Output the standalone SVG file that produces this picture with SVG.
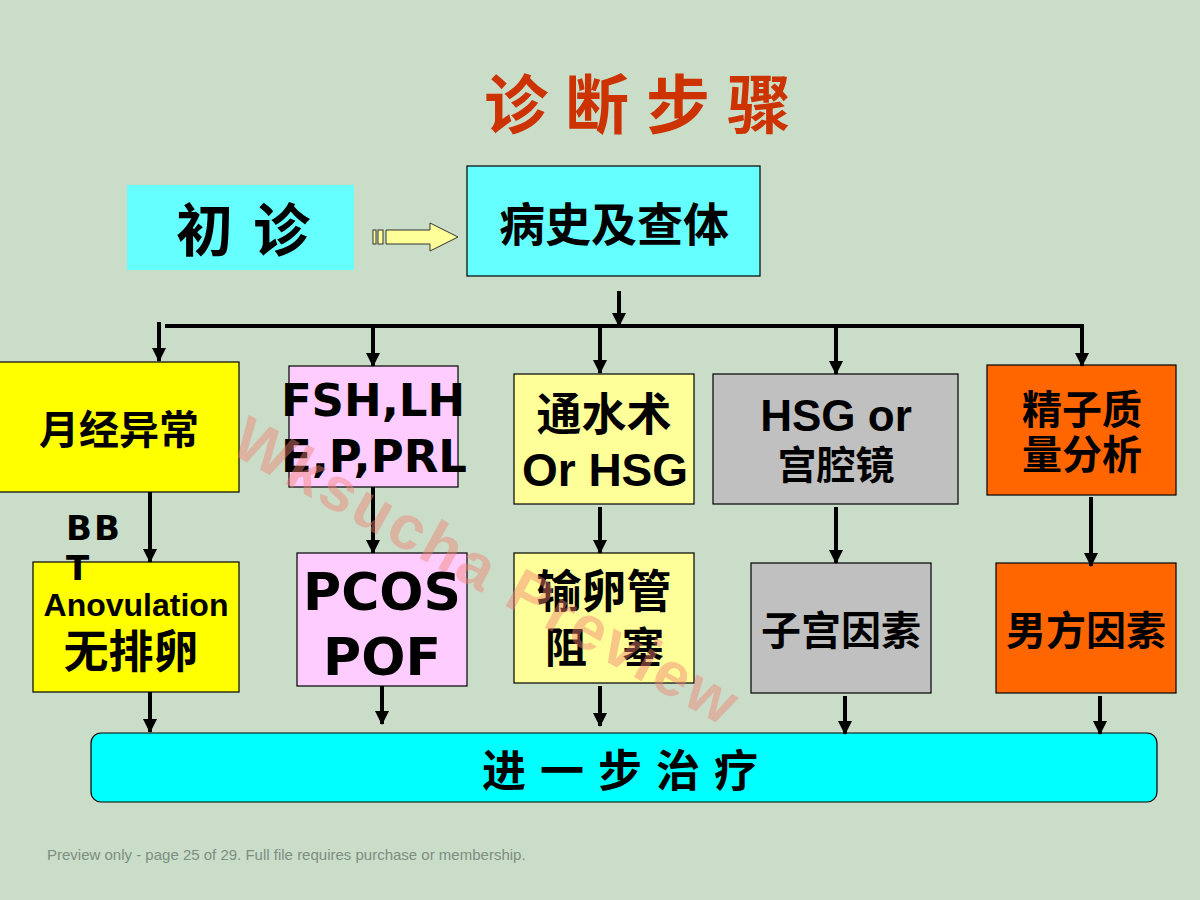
<svg xmlns="http://www.w3.org/2000/svg" width="1200" height="900" viewBox="0 0 1200 900">
<defs>
<marker id="ah" markerWidth="14" markerHeight="14" refX="13" refY="7" orient="auto" markerUnits="userSpaceOnUse">
<path d="M0,0 L14,7 L0,14 Z" fill="#000"/>
</marker>
<style>
.cn{font-family:"Liberation Sans","Noto Sans CJK SC",sans-serif;font-weight:bold;fill:#000;text-anchor:middle}
.dv{font-family:"DejaVu Sans",sans-serif;font-weight:bold;fill:#000;text-anchor:middle}
.st{text-anchor:start}
.box{stroke:#000;stroke-width:1.2}
.ln{stroke:#000;stroke-width:4;fill:none}
.ar{stroke:#000;stroke-width:4;fill:none;marker-end:url(#ah)}
</style>
</defs>
<rect width="1200" height="900" fill="#C9DDC9"/>
<text x="484" y="128" font-family="'Noto Sans CJK SC',sans-serif" font-weight="bold" font-size="64" fill="#CC3300" letter-spacing="17">诊断步骤</text>

<g id="chuzhen">
<rect x="127" y="185" width="227" height="85" fill="#66FFFF"/>
<text x="176" y="251" class="cn st" font-size="57" letter-spacing="20">初诊</text>
</g>
<g id="bingshi">
<rect class="box" x="467" y="166" width="293" height="110" fill="#66FFFF"/>
<text x="614" y="241" class="cn" font-size="46">病史及查体</text>
</g>
<g id="yuejing">
<rect class="box" x="-2" y="362" width="241" height="130" fill="#FFFF00"/>
<text x="119" y="444" class="cn" font-size="40">月经异常</text>
</g>
<g id="fsh">
<rect class="box" x="289" y="366" width="169" height="121" fill="#FFCCFF"/>
<text x="373" y="416" class="dv" font-size="45">FSH,LH</text>
<text x="374" y="472" class="dv" font-size="45">E,P,PRL</text>
</g>
<g id="tongshui">
<rect class="box" x="514" y="374" width="180" height="130" fill="#FFFF99"/>
<text x="604" y="431" class="cn" font-size="45">通水术</text>
<text x="605" y="486" class="cn" font-size="46">Or HSG</text>
</g>
<g id="hsg">
<rect class="box" x="713" y="374" width="245" height="130" fill="#C0C0C0"/>
<text x="836" y="431" class="cn" font-size="44">HSG or</text>
<text x="836" y="479" class="cn" font-size="39">宫腔镜</text>
</g>
<g id="jingzi">
<rect class="box" x="987" y="365" width="189" height="130" fill="#FF6600"/>
<text x="1082" y="424" class="cn" font-size="40">精子质</text>
<text x="1082" y="469" class="cn" font-size="40">量分析</text>
</g>
<g id="anov">
<rect class="box" x="33" y="562" width="206" height="130" fill="#FFFF00"/>
<text x="136" y="616" class="cn" font-size="32">Anovulation</text>
<text x="131" y="668" class="cn" font-size="45">无排卵</text>
</g>
<g id="bbt">
<text x="66" y="540" class="dv st" font-size="34" letter-spacing="2">BB</text>
<text x="66" y="580" class="dv st" font-size="34">T</text>
</g>
<g id="pcos">
<rect class="box" x="297" y="553" width="170" height="133" fill="#FFCCFF"/>
<text x="382" y="610" class="dv" font-size="52">PCOS</text>
<text x="382" y="675" class="dv" font-size="52">POF</text>
</g>
<g id="shuluan">
<rect class="box" x="514" y="553" width="180" height="130" fill="#FFFF99"/>
<text x="604" y="608" class="cn" font-size="45">输卵管</text>
<text x="545" y="663" class="cn st" font-size="42">阻</text>
<text x="622" y="663" class="cn st" font-size="42">塞</text>
</g>
<g id="zigong">
<rect class="box" x="751" y="563" width="180" height="130" fill="#C0C0C0"/>
<text x="841" y="645" class="cn" font-size="40">子宫因素</text>
</g>
<g id="nanfang">
<rect class="box" x="996" y="563" width="180" height="130" fill="#FF6600"/>
<text x="1086" y="645" class="cn" font-size="40">男方因素</text>
</g>
<g id="zhiliao">
<rect class="box" x="91" y="733" width="1066" height="69" rx="10" fill="#00FFFF"/>
<text x="482" y="787" class="cn st" font-size="44" letter-spacing="14">进一步治疗</text>
</g>

<g id="connectors">
<g id="blockarrow" stroke="#333" stroke-width="1" fill="#FFFF99">
<rect x="373" y="230" width="3" height="14"/>
<rect x="378" y="230" width="5" height="14"/>
<path d="M386,230 H430 V223 L458,237 L430,251 V244 H386 Z"/>
</g>
<line class="ln" x1="165" y1="326" x2="1084" y2="326"/>
<line class="ar" x1="619" y1="291" x2="619" y2="326"/>
<line class="ar" x1="159" y1="322" x2="159" y2="361"/>
<line class="ar" x1="373" y1="326" x2="373" y2="366"/>
<line class="ar" x1="600" y1="326" x2="600" y2="373"/>
<line class="ar" x1="836" y1="326" x2="836" y2="374"/>
<line class="ar" x1="1082" y1="326" x2="1082" y2="366"/>
<line class="ar" x1="150" y1="492" x2="150" y2="562"/>
<line class="ar" x1="373" y1="487" x2="373" y2="553"/>
<line class="ar" x1="600" y1="507" x2="600" y2="553"/>
<line class="ar" x1="836" y1="507" x2="836" y2="563"/>
<line class="ar" x1="1091" y1="497" x2="1091" y2="566"/>
<line class="ar" x1="150" y1="692" x2="150" y2="732"/>
<line class="ar" x1="382" y1="686" x2="382" y2="724"/>
<line class="ar" x1="600" y1="686" x2="600" y2="726"/>
<line class="ar" x1="845" y1="696" x2="845" y2="734"/>
<line class="ar" x1="1100" y1="696" x2="1100" y2="734"/>
</g>

<text x="228" y="452" transform="rotate(29 228 452)" font-family="'Liberation Sans',sans-serif" font-weight="bold" font-size="62" fill="#F08070" fill-opacity="0.45" letter-spacing="3">Wksucha Preview</text>
<text x="47" y="860" font-family="'Liberation Sans',sans-serif" font-size="15" fill="#7E8E80">Preview only - page 25 of 29. Full file requires purchase or membership.</text>
</svg>
